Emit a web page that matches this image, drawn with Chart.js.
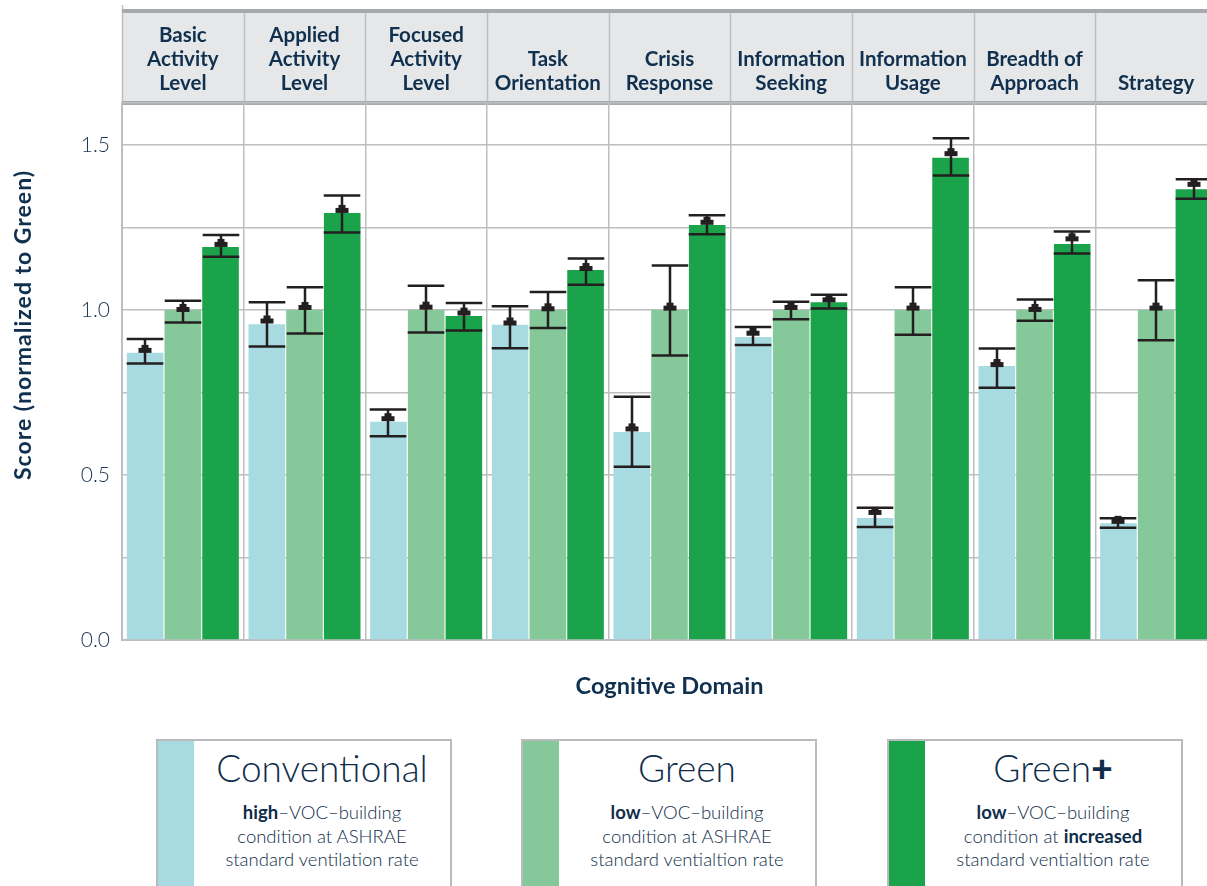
<!DOCTYPE html>
<html>
<head>
<meta charset="utf-8">
<script src="https://cdn.jsdelivr.net/npm/chart.js@4.4.1/dist/chart.umd.min.js"></script>
<style>
  html, body { margin: 0; padding: 0; background: #fff; overflow: hidden; width: 1207px; height: 886px; }
  #wrap { position: absolute; left: 0; top: 0; width: 1220px; height: 720px; }
  .box { position: absolute; top: 739px; width: 292px; height: 170px; border: 2px solid #b9babc; background: #fff;
         font-family: Lato, sans-serif; color: #0f2d4a; }
  .strip { position: absolute; left: 0; top: 0; width: 36px; height: 100%; }
  .ttl { position: absolute; left: 36px; right: 0; top: 5px; text-align: center; font-size: 37px; font-weight: 300; line-height: 44px; }
  .sub { position: absolute; left: 36px; right: 0; top: 60px; text-align: center; font-size: 18.5px; font-weight: 300; line-height: 23.5px; }
  .sub b { font-weight: 700; }
  .plus { font-weight: 900; }
</style>
</head>
<body>
<div id="wrap"><canvas id="chart" width="1220" height="720"></canvas></div>

<div class="box" style="left:156px">
  <div class="strip" style="background:#a7dbe1"></div>
  <div class="ttl">Conventional</div>
  <div class="sub"><b>high</b>–VOC–building<br>condition at ASHRAE<br>standard ventilation rate</div>
</div>
<div class="box" style="left:521px">
  <div class="strip" style="background:#85c99a"></div>
  <div class="ttl">Green</div>
  <div class="sub"><b>low</b>–VOC–building<br>condition at ASHRAE<br>standard ventialtion rate</div>
</div>
<div class="box" style="left:887px">
  <div class="strip" style="background:#1aa34a"></div>
  <div class="ttl">Green<span class="plus">+</span></div>
  <div class="sub"><b>low</b>–VOC–building<br>condition at <b>increased</b><br>standard ventialtion rate</div>
</div>

<script>
// categories (multi-line header labels)
const categories = [
  ['Basic', 'Activity', 'Level'],
  ['Applied', 'Activity', 'Level'],
  ['Focused', 'Activity', 'Level'],
  ['Task', 'Orientation'],
  ['Crisis', 'Response'],
  ['Information', 'Seeking'],
  ['Information', 'Usage'],
  ['Breadth of', 'Approach'],
  ['Strategy']
];

// bar heights
const conventional = [0.870, 0.957, 0.661, 0.955, 0.630, 0.918, 0.370, 0.830, 0.354];
const green        = [1.000, 1.000, 1.000, 1.000, 1.000, 1.000, 1.000, 1.000, 1.000];
const greenPlus    = [1.191, 1.294, 0.982, 1.121, 1.257, 1.023, 1.461, 1.200, 1.366];

// error bars: upper cap, lower cap, mean marker
const conventionalHigh = [0.912, 1.023, 0.698, 1.011, 0.737, 0.948, 0.401, 0.883, 0.369];
const conventionalLow  = [0.838, 0.889, 0.617, 0.884, 0.525, 0.894, 0.342, 0.764, 0.340];
const conventionalMean = [0.879, 0.968, 0.672, 0.962, 0.641, 0.931, 0.388, 0.836, 0.361];
const greenHigh = [1.028, 1.069, 1.073, 1.054, 1.135, 1.025, 1.069, 1.032, 1.090];
const greenLow  = [0.962, 0.929, 0.932, 0.945, 0.862, 0.972, 0.925, 0.967, 0.908];
const greenMean = [1.003, 1.009, 1.010, 1.005, 1.007, 1.009, 1.007, 1.003, 1.007];
const greenPlusHigh = [1.227, 1.347, 1.021, 1.156, 1.287, 1.046, 1.520, 1.238, 1.396];
const greenPlusLow  = [1.161, 1.235, 0.938, 1.076, 1.229, 1.004, 1.407, 1.171, 1.337];
const greenPlusMean = [1.200, 1.303, 0.992, 1.127, 1.267, 1.032, 1.475, 1.217, 1.382];

// y tick labels shown (grid every 0.25)
const yLabels = [0.0, 0.5, 1.0, 1.5];

const errHigh = [conventionalHigh, greenHigh, greenPlusHigh];
const errLow = [conventionalLow, greenLow, greenPlusLow];
const errMean = [conventionalMean, greenMean, greenPlusMean];

const navy = '#10304f';
const gridGray = '#bcbec0';

// header band, separators and y title
const headerPlugin = {
  id: 'header',
  beforeDraw(chart) {
    const ctx = chart.ctx;
    const xs = chart.scales.x;
    const area = chart.chartArea;
    ctx.save();
    ctx.fillStyle = '#e6e7e8';
    ctx.fillRect(area.left, xs.top, area.right - area.left + 10, xs.bottom - xs.top);
    const half = (xs.getPixelForValue(1) - xs.getPixelForValue(0)) / 2;
    ctx.strokeStyle = gridGray;
    ctx.lineWidth = 1.5;
    for (let i = 0; i <= categories.length; i++) {
      const x = Math.round(xs.getPixelForValue(i) - half) + 0.5;
      ctx.beginPath();
      ctx.moveTo(x, i === 0 ? xs.top - 5 : xs.top);
      ctx.lineTo(x, xs.bottom);
      ctx.stroke();
    }
    ctx.strokeStyle = '#a7a9ac';
    ctx.lineWidth = 4;
    ctx.beginPath();
    ctx.moveTo(area.left, xs.top + 1);
    ctx.lineTo(area.right + 10, xs.top + 1);
    ctx.moveTo(area.left, xs.bottom);
    ctx.lineTo(area.right + 10, xs.bottom);
    ctx.stroke();
    ctx.restore();
  },
  afterDraw(chart) {
    const ctx = chart.ctx;
    ctx.save();
    ctx.translate(24, 325);
    ctx.rotate(-Math.PI / 2);
    ctx.font = 'bold 23px Lato';
    ctx.letterSpacing = '1px';
    ctx.fillStyle = navy;
    ctx.textAlign = 'center';
    ctx.textBaseline = 'middle';
    ctx.fillText('Score (normalized to Green)', 0, 0);
    ctx.restore();
  }
};

// error bars with mean markers
const errorPlugin = {
  id: 'errorBars',
  afterDatasetsDraw(chart) {
    const ctx = chart.ctx;
    const ys = chart.scales.y;
    ctx.save();
    ctx.strokeStyle = '#231f20';
    ctx.fillStyle = '#231f20';
    ctx.lineWidth = 2.5;
    chart.data.datasets.forEach((ds, i) => {
      const meta = chart.getDatasetMeta(i);
      meta.data.forEach((bar, j) => {
        const x = Math.round(bar.x);
        const w = bar.width;
        const yHi = ys.getPixelForValue(errHigh[i][j]);
        const yLo = ys.getPixelForValue(errLow[i][j]);
        const yM = ys.getPixelForValue(errMean[i][j]);
        ctx.beginPath();
        ctx.moveTo(x, yHi);
        ctx.lineTo(x, yLo);
        ctx.moveTo(x - w / 2, yHi);
        ctx.lineTo(x + w / 2, yHi);
        ctx.moveTo(x - w / 2, yLo);
        ctx.lineTo(x + w / 2, yLo);
        ctx.stroke();
        ctx.fillRect(x - 6.5, yM - 2, 13, 5);
        ctx.fillRect(x - 3.5, yM - 5, 7, 4);
      });
    });
    ctx.restore();
  }
};

new Chart(document.getElementById('chart'), {
  type: 'bar',
  data: {
    labels: categories,
    datasets: [
      { label: 'Conventional', data: conventional, backgroundColor: '#a7dbe1', xAxisID: 'x' },
      { label: 'Green', data: green, backgroundColor: '#85c99a', xAxisID: 'x' },
      { label: 'Green+', data: greenPlus, backgroundColor: '#1aa34a', xAxisID: 'x' }
    ]
  },
  options: {
    responsive: false,
    animation: false,
    layout: { padding: { top: 10, right: 3, bottom: 9.8, left: 0 } },
    datasets: { bar: { categoryPercentage: 0.93, barPercentage: 0.97 } },
    plugins: { legend: { display: false }, tooltip: { enabled: false } },
    scales: {
      x: {
        position: 'top',
        grid: { offset: true, color: gridGray, lineWidth: 1.5, drawTicks: false },
        border: { display: false },
        ticks: { color: navy, font: { family: 'Lato', weight: 'bold', size: 20.5, lineHeight: 1.17 }, padding: 8, maxRotation: 0, autoSkip: false },
        afterFit: s => { s.height = 93; }
      },
      x2: {
        type: 'category',
        position: 'bottom',
        labels: categories,
        grid: { display: false },
        border: { display: true, color: gridGray, width: 2 },
        ticks: { display: false },
        title: { display: true, text: 'Cognitive Domain', color: navy, font: { family: 'Lato', weight: 'bold', size: 23.5, lineHeight: 1.2 }, padding: { top: 24, bottom: 10 } }
      },
      y: {
        min: 0,
        max: 1.627,
        grid: { color: gridGray, lineWidth: 1.5, drawTicks: false },
        border: { display: true, color: gridGray, width: 2 },
        ticks: {
          stepSize: 0.25,
          padding: 12,
          color: '#1b3553',
          font: { family: 'Lato', weight: '300', size: 21 },
          callback: v => {
            const hit = yLabels.find(t => Math.abs(t - v) < 1e-6);
            return hit === undefined ? '' : hit.toFixed(1);
          }
        },
        afterFit: s => { s.width = 122; }
      }
    }
  },
  plugins: [headerPlugin, errorPlugin]
});
</script>
</body>
</html>
